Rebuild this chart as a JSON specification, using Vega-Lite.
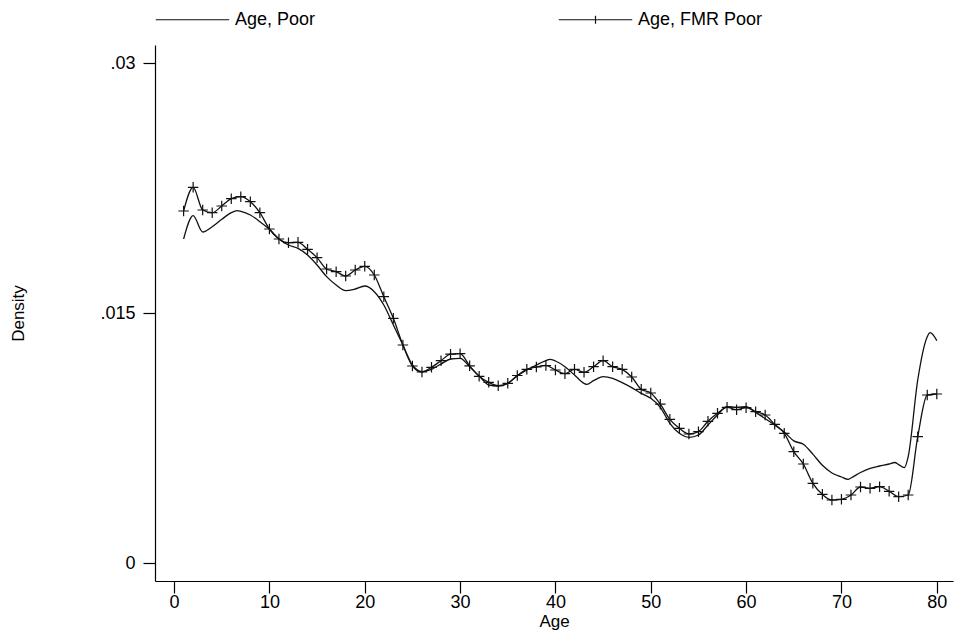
{
  "$schema": "https://vega.github.io/schema/vega-lite/v6.json",
  "autosize": "none",
  "width": 798,
  "height": 536,
  "padding": {"left": 155, "top": 45, "right": 1, "bottom": 59},
  "background": "white",
  "config": {
    "view": {"stroke": null},
    "font": "Liberation Sans",
    "axis": {
      "grid": false,
      "domainColor": "#000000",
      "domainWidth": 1.2,
      "tickColor": "#000000",
      "tickWidth": 1.2,
      "tickSize": 12,
      "labelColor": "#000000",
      "labelFont": "Liberation Sans",
      "labelFontSize": 18,
      "titleFont": "Liberation Sans",
      "titleFontSize": 17,
      "titleFontWeight": "normal",
      "titleColor": "#000000"
    }
  },
  "data": {
    "values": [
      {"age": 1, "density": 0.01946, "series": "Age, Poor"},
      {"age": 2, "density": 0.02086, "series": "Age, Poor"},
      {"age": 3, "density": 0.01988, "series": "Age, Poor"},
      {"age": 4, "density": 0.0202, "series": "Age, Poor"},
      {"age": 5, "density": 0.02064, "series": "Age, Poor"},
      {"age": 6, "density": 0.02104, "series": "Age, Poor"},
      {"age": 6.6, "density": 0.02116, "series": "Age, Poor"},
      {"age": 7, "density": 0.02112, "series": "Age, Poor"},
      {"age": 8, "density": 0.0209, "series": "Age, Poor"},
      {"age": 9, "density": 0.0205, "series": "Age, Poor"},
      {"age": 10, "density": 0.02004, "series": "Age, Poor"},
      {"age": 11, "density": 0.01946, "series": "Age, Poor"},
      {"age": 12, "density": 0.0191, "series": "Age, Poor"},
      {"age": 13, "density": 0.0189, "series": "Age, Poor"},
      {"age": 14, "density": 0.0185, "series": "Age, Poor"},
      {"age": 15, "density": 0.0179, "series": "Age, Poor"},
      {"age": 16, "density": 0.0172, "series": "Age, Poor"},
      {"age": 17, "density": 0.0167, "series": "Age, Poor"},
      {"age": 18, "density": 0.01636, "series": "Age, Poor"},
      {"age": 19, "density": 0.01646, "series": "Age, Poor"},
      {"age": 20, "density": 0.01664, "series": "Age, Poor"},
      {"age": 21, "density": 0.0163, "series": "Age, Poor"},
      {"age": 22, "density": 0.0155, "series": "Age, Poor"},
      {"age": 23, "density": 0.0143, "series": "Age, Poor"},
      {"age": 24, "density": 0.0131, "series": "Age, Poor"},
      {"age": 25, "density": 0.0119, "series": "Age, Poor"},
      {"age": 26, "density": 0.0115, "series": "Age, Poor"},
      {"age": 27, "density": 0.01164, "series": "Age, Poor"},
      {"age": 28, "density": 0.01196, "series": "Age, Poor"},
      {"age": 29, "density": 0.01226, "series": "Age, Poor"},
      {"age": 30, "density": 0.0123, "series": "Age, Poor"},
      {"age": 31, "density": 0.0118, "series": "Age, Poor"},
      {"age": 32, "density": 0.01124, "series": "Age, Poor"},
      {"age": 33, "density": 0.0107, "series": "Age, Poor"},
      {"age": 34, "density": 0.01064, "series": "Age, Poor"},
      {"age": 35, "density": 0.0108, "series": "Age, Poor"},
      {"age": 36, "density": 0.01124, "series": "Age, Poor"},
      {"age": 37, "density": 0.0116, "series": "Age, Poor"},
      {"age": 38, "density": 0.0119, "series": "Age, Poor"},
      {"age": 39, "density": 0.01216, "series": "Age, Poor"},
      {"age": 39.4, "density": 0.01224, "series": "Age, Poor"},
      {"age": 40, "density": 0.01214, "series": "Age, Poor"},
      {"age": 41, "density": 0.0118, "series": "Age, Poor"},
      {"age": 42, "density": 0.0113, "series": "Age, Poor"},
      {"age": 43, "density": 0.0108, "series": "Age, Poor"},
      {"age": 43.3, "density": 0.01074, "series": "Age, Poor"},
      {"age": 44, "density": 0.01096, "series": "Age, Poor"},
      {"age": 45, "density": 0.0112, "series": "Age, Poor"},
      {"age": 46, "density": 0.0111, "series": "Age, Poor"},
      {"age": 47, "density": 0.01084, "series": "Age, Poor"},
      {"age": 48, "density": 0.01054, "series": "Age, Poor"},
      {"age": 49, "density": 0.0102, "series": "Age, Poor"},
      {"age": 50, "density": 0.0099, "series": "Age, Poor"},
      {"age": 51, "density": 0.00936, "series": "Age, Poor"},
      {"age": 52, "density": 0.0084, "series": "Age, Poor"},
      {"age": 53, "density": 0.0078, "series": "Age, Poor"},
      {"age": 54, "density": 0.00756, "series": "Age, Poor"},
      {"age": 55, "density": 0.0077, "series": "Age, Poor"},
      {"age": 56, "density": 0.0083, "series": "Age, Poor"},
      {"age": 57, "density": 0.0089, "series": "Age, Poor"},
      {"age": 58, "density": 0.0094, "series": "Age, Poor"},
      {"age": 59, "density": 0.00936, "series": "Age, Poor"},
      {"age": 60, "density": 0.0094, "series": "Age, Poor"},
      {"age": 61, "density": 0.00906, "series": "Age, Poor"},
      {"age": 62, "density": 0.00868, "series": "Age, Poor"},
      {"age": 63, "density": 0.0083, "series": "Age, Poor"},
      {"age": 64, "density": 0.00788, "series": "Age, Poor"},
      {"age": 65, "density": 0.00735, "series": "Age, Poor"},
      {"age": 66, "density": 0.00714, "series": "Age, Poor"},
      {"age": 67, "density": 0.00655, "series": "Age, Poor"},
      {"age": 68, "density": 0.00588, "series": "Age, Poor"},
      {"age": 69, "density": 0.00542, "series": "Age, Poor"},
      {"age": 70, "density": 0.00518, "series": "Age, Poor"},
      {"age": 70.7, "density": 0.00504, "series": "Age, Poor"},
      {"age": 71, "density": 0.00512, "series": "Age, Poor"},
      {"age": 72, "density": 0.00545, "series": "Age, Poor"},
      {"age": 73, "density": 0.0057, "series": "Age, Poor"},
      {"age": 74, "density": 0.00584, "series": "Age, Poor"},
      {"age": 75, "density": 0.00596, "series": "Age, Poor"},
      {"age": 75.6, "density": 0.00605, "series": "Age, Poor"},
      {"age": 76, "density": 0.00592, "series": "Age, Poor"},
      {"age": 76.6, "density": 0.00574, "series": "Age, Poor"},
      {"age": 77, "density": 0.0064, "series": "Age, Poor"},
      {"age": 78, "density": 0.011, "series": "Age, Poor"},
      {"age": 79, "density": 0.0136, "series": "Age, Poor"},
      {"age": 79.3, "density": 0.01384, "series": "Age, Poor"},
      {"age": 80, "density": 0.01336, "series": "Age, Poor"},
      {"age": 1, "density": 0.02114, "series": "Age, FMR Poor"},
      {"age": 2, "density": 0.02256, "series": "Age, FMR Poor"},
      {"age": 3, "density": 0.0212, "series": "Age, FMR Poor"},
      {"age": 4, "density": 0.02104, "series": "Age, FMR Poor"},
      {"age": 5, "density": 0.02144, "series": "Age, FMR Poor"},
      {"age": 6, "density": 0.02188, "series": "Age, FMR Poor"},
      {"age": 7, "density": 0.022, "series": "Age, FMR Poor"},
      {"age": 8, "density": 0.0217, "series": "Age, FMR Poor"},
      {"age": 9, "density": 0.02104, "series": "Age, FMR Poor"},
      {"age": 10, "density": 0.02006, "series": "Age, FMR Poor"},
      {"age": 11, "density": 0.01946, "series": "Age, FMR Poor"},
      {"age": 12, "density": 0.01924, "series": "Age, FMR Poor"},
      {"age": 13, "density": 0.01926, "series": "Age, FMR Poor"},
      {"age": 14, "density": 0.01884, "series": "Age, FMR Poor"},
      {"age": 15, "density": 0.01834, "series": "Age, FMR Poor"},
      {"age": 16, "density": 0.01766, "series": "Age, FMR Poor"},
      {"age": 17, "density": 0.0175, "series": "Age, FMR Poor"},
      {"age": 18, "density": 0.01724, "series": "Age, FMR Poor"},
      {"age": 19, "density": 0.0176, "series": "Age, FMR Poor"},
      {"age": 20, "density": 0.01782, "series": "Age, FMR Poor"},
      {"age": 21, "density": 0.0173, "series": "Age, FMR Poor"},
      {"age": 22, "density": 0.016, "series": "Age, FMR Poor"},
      {"age": 23, "density": 0.0147, "series": "Age, FMR Poor"},
      {"age": 24, "density": 0.0131, "series": "Age, FMR Poor"},
      {"age": 25, "density": 0.01184, "series": "Age, FMR Poor"},
      {"age": 26, "density": 0.01148, "series": "Age, FMR Poor"},
      {"age": 27, "density": 0.01176, "series": "Age, FMR Poor"},
      {"age": 28, "density": 0.01216, "series": "Age, FMR Poor"},
      {"age": 29, "density": 0.01255, "series": "Age, FMR Poor"},
      {"age": 30, "density": 0.01258, "series": "Age, FMR Poor"},
      {"age": 31, "density": 0.01185, "series": "Age, FMR Poor"},
      {"age": 32, "density": 0.01122, "series": "Age, FMR Poor"},
      {"age": 33, "density": 0.01086, "series": "Age, FMR Poor"},
      {"age": 34, "density": 0.01066, "series": "Age, FMR Poor"},
      {"age": 35, "density": 0.0108, "series": "Age, FMR Poor"},
      {"age": 36, "density": 0.01127, "series": "Age, FMR Poor"},
      {"age": 37, "density": 0.01164, "series": "Age, FMR Poor"},
      {"age": 38, "density": 0.01178, "series": "Age, FMR Poor"},
      {"age": 39, "density": 0.01187, "series": "Age, FMR Poor"},
      {"age": 40, "density": 0.0116, "series": "Age, FMR Poor"},
      {"age": 41, "density": 0.01138, "series": "Age, FMR Poor"},
      {"age": 42, "density": 0.01164, "series": "Age, FMR Poor"},
      {"age": 43, "density": 0.01146, "series": "Age, FMR Poor"},
      {"age": 44, "density": 0.0118, "series": "Age, FMR Poor"},
      {"age": 45, "density": 0.01216, "series": "Age, FMR Poor"},
      {"age": 46, "density": 0.0118, "series": "Age, FMR Poor"},
      {"age": 47, "density": 0.01164, "series": "Age, FMR Poor"},
      {"age": 48, "density": 0.01118, "series": "Age, FMR Poor"},
      {"age": 49, "density": 0.01044, "series": "Age, FMR Poor"},
      {"age": 50, "density": 0.01022, "series": "Age, FMR Poor"},
      {"age": 51, "density": 0.00955, "series": "Age, FMR Poor"},
      {"age": 52, "density": 0.00864, "series": "Age, FMR Poor"},
      {"age": 53, "density": 0.0081, "series": "Age, FMR Poor"},
      {"age": 54, "density": 0.00776, "series": "Age, FMR Poor"},
      {"age": 55, "density": 0.0079, "series": "Age, FMR Poor"},
      {"age": 56, "density": 0.00852, "series": "Age, FMR Poor"},
      {"age": 57, "density": 0.009, "series": "Age, FMR Poor"},
      {"age": 58, "density": 0.00936, "series": "Age, FMR Poor"},
      {"age": 59, "density": 0.00922, "series": "Age, FMR Poor"},
      {"age": 60, "density": 0.00934, "series": "Age, FMR Poor"},
      {"age": 61, "density": 0.0091, "series": "Age, FMR Poor"},
      {"age": 62, "density": 0.0089, "series": "Age, FMR Poor"},
      {"age": 63, "density": 0.00834, "series": "Age, FMR Poor"},
      {"age": 64, "density": 0.0078, "series": "Age, FMR Poor"},
      {"age": 65, "density": 0.0067, "series": "Age, FMR Poor"},
      {"age": 66, "density": 0.00596, "series": "Age, FMR Poor"},
      {"age": 67, "density": 0.0048, "series": "Age, FMR Poor"},
      {"age": 68, "density": 0.00414, "series": "Age, FMR Poor"},
      {"age": 69, "density": 0.0038, "series": "Age, FMR Poor"},
      {"age": 70, "density": 0.00384, "series": "Age, FMR Poor"},
      {"age": 71, "density": 0.0041, "series": "Age, FMR Poor"},
      {"age": 72, "density": 0.00458, "series": "Age, FMR Poor"},
      {"age": 73, "density": 0.0045, "series": "Age, FMR Poor"},
      {"age": 74, "density": 0.0046, "series": "Age, FMR Poor"},
      {"age": 75, "density": 0.00432, "series": "Age, FMR Poor"},
      {"age": 76, "density": 0.004, "series": "Age, FMR Poor"},
      {"age": 77, "density": 0.0041, "series": "Age, FMR Poor"},
      {"age": 78, "density": 0.0076, "series": "Age, FMR Poor"},
      {"age": 79, "density": 0.0101, "series": "Age, FMR Poor"},
      {"age": 80, "density": 0.01016, "series": "Age, FMR Poor"}
    ]
  },
  "encoding": {
    "x": {
      "field": "age",
      "type": "quantitative",
      "title": "Age",
      "scale": {"domain": [-2, 81.7], "nice": false, "zero": false},
      "axis": {"values": [0, 10, 20, 30, 40, 50, 60, 70, 80], "labelPadding": 0, "titlePadding": 2}
    },
    "y": {
      "field": "density",
      "type": "quantitative",
      "title": "Density",
      "scale": {"domain": [-0.00106, 0.0311], "nice": false, "zero": false},
      "axis": {
        "values": [0, 0.015, 0.03],
        "labelExpr": "datum.value == 0 ? '0' : replace(format(datum.value, '.3~f'), '0.', '.')",
        "labelPadding": 8,
        "titlePadding": 72
      }
    }
  },
  "layer": [
    {
      "mark": {"type": "line", "interpolate": "monotone", "strokeWidth": 1.3},
      "encoding": {
        "stroke": {
          "field": "series",
          "type": "nominal",
          "scale": {"domain": ["Age, Poor", "Age, FMR Poor"], "range": ["#111111", "#111111"]},
          "legend": {
            "title": null,
            "orient": "top",
            "offset": 16,
            "direction": "horizontal",
            "columnPadding": 240,
            "padding": 0,
            "labelFont": "Liberation Sans",
            "labelFontSize": 18,
            "labelColor": "#000000",
            "labelOffset": 5,
            "symbolSize": 5400,
            "symbolStrokeWidth": 1.2,
            "symbolStrokeColor": "#111111",
            "encode": {
              "symbols": {
                "update": {
                  "shape": {"signal": "datum.value === 'Age, FMR Poor' ? 'M-1,0L1,0M-0.11,0L0.11,0M0,-0.11L0,0.11' : 'M-1,0L1,0'"}
                }
              }
            }
          }
        }
      }
    },
    {
      "transform": [{"filter": "datum.series === 'Age, FMR Poor'"}],
      "mark": {
        "type": "point",
        "shape": "M-1,0L1,0M0,-1L0,1",
        "filled": false,
        "stroke": "#111111",
        "strokeWidth": 1.2,
        "size": 110,
        "opacity": 1
      }
    }
  ]
}
